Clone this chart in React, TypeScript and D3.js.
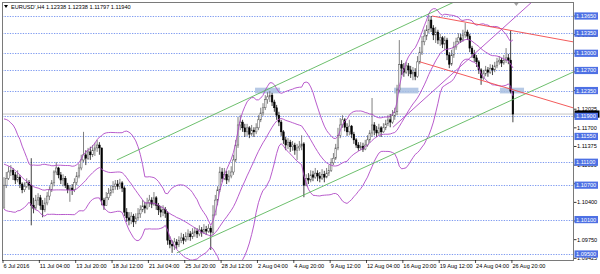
import React from 'react';
import * as d3 from 'd3';

const W = 600;
const H = 274;

// ---- data (prices in 1e-4 units, e.g. 11070 = 1.1070) ----
const FIRST_OPEN = 11030;
// closes of the 19 H4 bars before the first visible bar (needed for the Bollinger window)
const PRE_CLOSES = [11115, 11125, 11140, 11135, 11150, 11160, 11145, 11155, 11140, 11135, 11130, 11105, 11085, 11075, 11065, 11070, 11060, 11045, 11030];

const CLOSES = [
  11070, 11082, 11093, 11096, 11088, 11079, 11084, 11072, 11062, 11068,
  11075, 11070, 11035, 11030, 11044, 11048, 11035, 11027, 11039, 11051,
  11062, 11074, 11093, 11100, 11088, 11079, 11082, 11070, 11062, 11065,
  11062, 11075, 11086, 11100, 11114, 11123, 11117, 11128, 11123, 11131,
  11135, 11140, 11135, 11044, 11035, 11048, 11056, 11062, 11068, 11072,
  11068, 11074, 11065, 11023, 11013, 11009, 11016, 11006, 11013, 11020,
  11027, 11034, 11030, 11039, 11044, 11037, 11048, 11035, 11027, 11023,
  11028, 11021, 10974, 10967, 10964, 10971, 10966, 10974, 10978, 10974,
  10981, 10985, 10980, 10987, 10990, 10985, 10992, 10988, 10993, 10990,
  10995, 10988, 11018, 11044, 11062, 11093, 11082, 11089, 11079, 11086,
  11093, 11114, 11140, 11175, 11180, 11170, 11163, 11170, 11159, 11166,
  11163, 11170, 11184, 11196, 11205, 11219, 11224, 11227, 11215, 11205,
  11192, 11180, 11163, 11149, 11140, 11145, 11137, 11140, 11131, 11135,
  11138, 11142, 11070, 11082, 11079, 11088, 11084, 11091, 11086, 11082,
  11089, 11084, 11091, 11096, 11109, 11117, 11135, 11157, 11175, 11184,
  11171, 11163, 11173, 11159, 11149, 11140, 11135, 11138, 11133, 11140,
  11149, 11161, 11175, 11166, 11161, 11170, 11163, 11170, 11177, 11184,
  11180, 11191, 11198, 11236, 11280, 11274, 11267, 11278, 11271, 11264,
  11267, 11260, 11285, 11302, 11320, 11330, 11341, 11358, 11344, 11332,
  11337, 11323, 11327, 11316, 11323, 11297, 11281, 11297, 11311, 11320,
  11327, 11323, 11332, 11337, 11330, 11309, 11299, 11292, 11285, 11271,
  11257, 11264, 11271, 11267, 11274, 11271, 11278, 11285, 11288, 11283,
  11288, 11292, 11288, 11233.8, 11194.0,
];

const HIGHS = [
  11084, 11093, 11103, 11105, 11100, 11093, 11096, 11088, 11075, 11075,
  11082, 11079, 11117, 11048, 11053, 11056, 11053, 11044, 11048, 11058,
  11068, 11079, 11096, 11110, 11102, 11093, 11089, 11086, 11074, 11070,
  11072, 11082, 11093, 11107, 11123, 11163, 11131, 11135, 11137, 11140,
  11144, 11149, 11145, 11135, 11048, 11058, 11065, 11070, 11077, 11079,
  11079, 11081, 11077, 11068, 11030, 11023, 11023, 11020, 11021, 11030,
  11035, 11044, 11041, 11048, 11053, 11049, 11058, 11051, 11039, 11034,
  11035, 11032, 11025, 10981, 10974, 10978, 10976, 10981, 10987, 10985,
  10988, 10993, 10990, 10995, 10997, 10995, 11000, 10997, 11002, 10999,
  11002, 10999, 11035, 11053, 11068, 11102, 11100, 11100, 11095, 11096,
  11103, 11123, 11149, 11189, 11192, 11184, 11177, 11177, 11173, 11175,
  11171, 11178, 11192, 11205, 11213, 11227, 11232, 11234, 11231, 11219,
  11210, 11198, 11184, 11166, 11154, 11152, 11149, 11147, 11144, 11142,
  11147, 11157, 11145, 11089, 11091, 11096, 11095, 11100, 11096, 11093,
  11098, 11095, 11100, 11105, 11117, 11126, 11142, 11170, 11187, 11192,
  11187, 11178, 11184, 11175, 11163, 11152, 11145, 11145, 11144, 11149,
  11157, 11166, 11222, 11180, 11173, 11177, 11173, 11178, 11184, 11192,
  11194, 11201, 11205, 11245, 11323, 11288, 11283, 11285, 11283, 11278,
  11276, 11274, 11295, 11311, 11330, 11341, 11349, 11367, 11365, 11349,
  11346, 11341, 11334, 11330, 11330, 11327, 11302, 11306, 11320, 11327,
  11335, 11334, 11341, 11353, 11341, 11334, 11313, 11306, 11297, 11288,
  11274, 11271, 11278, 11276, 11281, 11280, 11285, 11292, 11295, 11292,
  11297, 11309, 11299, 11340, 11233.8,
];

const LOWS = [
  11035, 11065, 11079, 11086, 11079, 11072, 11075, 11065, 11056, 11058,
  11065, 11062, 11000, 11021, 11027, 11035, 11027, 11014, 11023, 11035,
  11044, 11058, 11068, 11088, 11082, 11072, 11068, 11065, 11056, 11041,
  11053, 11058, 11070, 11082, 11096, 11110, 11105, 11114, 11114, 11119,
  11121, 11128, 11123, 11035, 11027, 11034, 11044, 11051, 11056, 11062,
  11062, 11063, 11058, 11016, 11006, 11000, 11002, 10997, 11002, 11009,
  11013, 11023, 11021, 11027, 11032, 11030, 11034, 11027, 11018, 11014,
  11016, 11013, 10966, 10960, 10952, 10957, 10959, 10962, 10969, 10967,
  10971, 10974, 10973, 10976, 10980, 10978, 10981, 10980, 10985, 10983,
  10987, 10957, 10983, 11018, 11035, 11058, 11075, 11079, 11072, 11075,
  11082, 11088, 11110, 11135, 11166, 11163, 11154, 11156, 11152, 11156,
  11154, 11159, 11166, 11180, 11191, 11201, 11212, 11215, 11208, 11198,
  11184, 11173, 11156, 11142, 11131, 11133, 11128, 11130, 11123, 11114,
  11130, 11131, 11049, 11068, 11072, 11075, 11077, 11081, 11077, 11075,
  11079, 11075, 11082, 11086, 11093, 11105, 11114, 11131, 11152, 11170,
  11164, 11156, 11157, 11152, 11142, 11135, 11130, 11131, 11128, 11131,
  11137, 11144, 11154, 11157, 11154, 11157, 11154, 11161, 11166, 11173,
  11171, 11177, 11184, 11192, 11232, 11262, 11259, 11264, 11260, 11257,
  11253, 11253, 11257, 11281, 11297, 11314, 11323, 11335, 11337, 11323,
  11318, 11316, 11313, 11309, 11306, 11288, 11274, 11278, 11292, 11306,
  11316, 11318, 11320, 11327, 11323, 11302, 11292, 11285, 11276, 11264,
  11245, 11253, 11260, 11259, 11264, 11262, 11267, 11274, 11280, 11276,
  11280, 11283, 11281, 11230, 11179.7,
];

const TIME_LABELS: [number, string][] = [
  [0, '6 Jul 2016'], [16, '11 Jul 04:00'], [32, '13 Jul 20:00'], [48, '18 Jul 12:00'],
  [64, '21 Jul 04:00'], [80, '25 Jul 20:00'], [96, '28 Jul 12:00'], [112, '2 Aug 04:00'],
  [128, '4 Aug 20:00'], [144, '9 Aug 12:00'], [160, '12 Aug 04:00'], [176, '16 Aug 20:00'],
  [192, '19 Aug 12:00'], [208, '24 Aug 04:00'], [224, '26 Aug 20:00'],
];

const LEVELS = [1.1365, 1.1335, 1.13, 1.127, 1.1235, 1.119, 1.1155, 1.111, 1.107, 1.101, 1.095];
const AXIS_TICKS = [1.09425, 1.0975, 1.10075, 1.104, 1.10725, 1.1105, 1.11375, 1.117, 1.12025, 1.1235, 1.12675, 1.13, 1.13325, 1.1365];
const BID = 1.1194;
const TITLE = "EURUSD',H4  1.12338 1.12338 1.11797 1.11940";

// highlighted zones: [bar from, bar to], price band
const ZONES: [number, number][] = [[110.5, 121.5], [171.7, 182.4], [218.3, 228.9]];
const ZONE_PRICES: [number, number] = [1.123, 1.124];

// trend lines: [bar, price] anchor pairs
const GREEN_LINES: [number, number][][] = [
  [[49.7, 1.1114], [169.9, 1.1337]],
  [[76.1, 1.0952], [250.4, 1.1267]],
];
const RED_LINES: [number, number][][] = [
  [[188.4, 1.1365], [250.4, 1.132]],
  [[183.1, 1.1285], [250.4, 1.1205]],
];
const PURPLE_LINE: [number, number][] = [[171.2, 1.1171], [231.9, 1.13877]];

const BB_PERIOD = 20;
const BB_DEV = 2;

export default function App() {
  const left = 2, right = 574, top = 2, bottom = 260;
  const x = d3.scaleLinear().domain([0, 224]).range([4, 512.9]);
  const y = d3.scaleLinear().domain([1.095, 1.1365]).range([254, 16]);

  const candles = CLOSES.map((c0, i) => {
    const o = (i === 0 ? FIRST_OPEN : CLOSES[i - 1]) / 1e4;
    const c = c0 / 1e4;
    const h = Math.max(HIGHS[i] / 1e4, o, c);
    const l = Math.min(LOWS[i] / 1e4, o, c);
    return { i, o, c, h, l };
  });

  const all = PRE_CLOSES.concat(CLOSES).map((v) => v / 1e4);
  const pre = PRE_CLOSES.length;
  const bb = CLOSES.map((_, i) => {
    const win = all.slice(i + pre - BB_PERIOD + 1, i + pre + 1);
    const m = d3.mean(win) as number;
    const sd = Math.sqrt(d3.mean(win.map((v) => (v - m) * (v - m))) as number);
    return { i, m, u: m + BB_DEV * sd, l: m - BB_DEV * sd };
  });

  const lineGen = (key: 'm' | 'u' | 'l') =>
    d3.line<{ i: number; m: number; u: number; l: number }>()
      .x((d) => x(d.i))
      .y((d) => y(d[key]))(bb) as string;

  const extend = (seg: [number, number][], toBar: number) => {
    const [[b1, p1], [b2, p2]] = seg;
    const p = p1 + ((p2 - p1) * (toBar - b1)) / (b2 - b1);
    return [[b1, p1], [toBar, p]] as [number, number][];
  };

  const fontFamily = 'Liberation Sans, Arial, sans-serif';
  const fs = 5.6;
  const purple = '#b04ac6';

  const trend = (seg: [number, number][], color: string, key: string) => {
    const s = extend(seg, 260);
    return (
      <line key={key} x1={x(s[0][0])} y1={y(s[0][1])} x2={x(s[1][0])} y2={y(s[1][1])}
        stroke={color} strokeWidth={0.9} />
    );
  };

  return (
    <svg width={W} height={H} viewBox={`0 0 ${W} ${H}`}
      style={{ position: 'fixed', left: 0, top: 0, background: '#fff' }}>
      <defs>
        <clipPath id="plot">
          <rect x={left} y={top} width={right - left} height={bottom - top} />
        </clipPath>
      </defs>
      <rect x={0} y={0} width={W} height={H} fill="#fff" />

      <g clipPath="url(#plot)">
        {LEVELS.map((lv) => (
          <line key={'lv' + lv} x1={left} x2={right} y1={Math.round(y(lv)) + 0.5} y2={Math.round(y(lv)) + 0.5}
            stroke="#7f9bf0" strokeWidth={1} strokeDasharray="1.3,1.3" />
        ))}
        <line x1={left} x2={right} y1={y(BID)} y2={y(BID)} stroke="#c4c4c4" strokeWidth={1} />
        {ZONES.map(([a, b], k) => (
          <rect key={'z' + k} x={x(a)} width={x(b) - x(a)} y={y(ZONE_PRICES[1])}
            height={y(ZONE_PRICES[0]) - y(ZONE_PRICES[1])} fill="#a9bfe0" opacity={0.85} />
        ))}

        {candles.map((d) => {
          const bull = d.c >= d.o;
          const yt = y(Math.max(d.o, d.c));
          const hb = Math.max(0.7, Math.abs(y(d.o) - y(d.c)));
          return (
            <g key={'c' + d.i}>
              <line x1={x(d.i)} x2={x(d.i)} y1={y(d.h)} y2={y(d.l)}
                stroke={bull ? '#555' : '#000'} strokeWidth={0.75} />
              <rect x={x(d.i) - 0.8} width={1.6} y={yt} height={hb}
                fill={bull ? '#fff' : '#000'} stroke={bull ? '#555' : '#000'} strokeWidth={0.5} />
            </g>
          );
        })}

        <path d={lineGen('u')} fill="none" stroke={purple} strokeWidth={0.9} />
        <path d={lineGen('m')} fill="none" stroke={purple} strokeWidth={0.9} />
        <path d={lineGen('l')} fill="none" stroke={purple} strokeWidth={0.9} />

        {GREEN_LINES.map((s, k) => trend(s, '#5cb85c', 'g' + k))}
        {RED_LINES.map((s, k) => trend(s, '#f04848', 'r' + k))}
        {trend(PURPLE_LINE, purple, 'p')}
      </g>

      {/* chart shift marker */}
      <polygon points={`${x(225.5) - 3},${top} ${x(225.5) + 3},${top} ${x(225.5)},${top + 4}`} fill="#a0a0a0" />

      {/* frame */}
      <rect x={left + 0.5} y={top + 0.5} width={right - left - 1} height={bottom - top} fill="none" stroke="#7a7a7a" strokeWidth={1} />

      {/* title */}
      <polygon points="4,5 8,5 6,8" fill="#000" />
      <text x={11} y={8.8} fontFamily={fontFamily} fontSize={fs} fill="#000">{TITLE}</text>

      {/* right axis: plain ticks */}
      {AXIS_TICKS.map((t) => (
        <g key={'t' + t}>
          <line x1={right} x2={right + 2.5} y1={y(t)} y2={y(t)} stroke="#000" strokeWidth={0.8} />
          <text x={right + 3} y={y(t)} dy="0.36em" fontFamily={fontFamily} fontSize={fs} fill="#000">
            {t.toFixed(5)}
          </text>
        </g>
      ))}
      {/* bid label */}
      <rect x={right + 0.5} y={y(BID) - 3.6} width={25} height={7.2} fill="#000" />
      {/* level labels */}
      {LEVELS.map((lv) => (
        <g key={'lb' + lv}>
          <rect x={right + 0.5} y={y(lv) - 3.6} width={23.5} height={7.2} fill="#4d70e4" />
          <text x={right + 2} y={y(lv)} dy="0.36em" fontFamily={fontFamily} fontSize={fs} fill="#fff">
            {lv.toFixed(5)}
          </text>
        </g>
      ))}

      {/* time axis */}
      {TIME_LABELS.map(([i, s]) => (
        <g key={'x' + i}>
          <line x1={x(i) - 1} x2={x(i) - 1} y1={bottom} y2={bottom + 3} stroke="#000" strokeWidth={0.7} />
          <text x={x(i) - 0.5} y={268} fontFamily={fontFamily} fontSize={fs} fill="#000">{s}</text>
        </g>
      ))}
    </svg>
  );
}
